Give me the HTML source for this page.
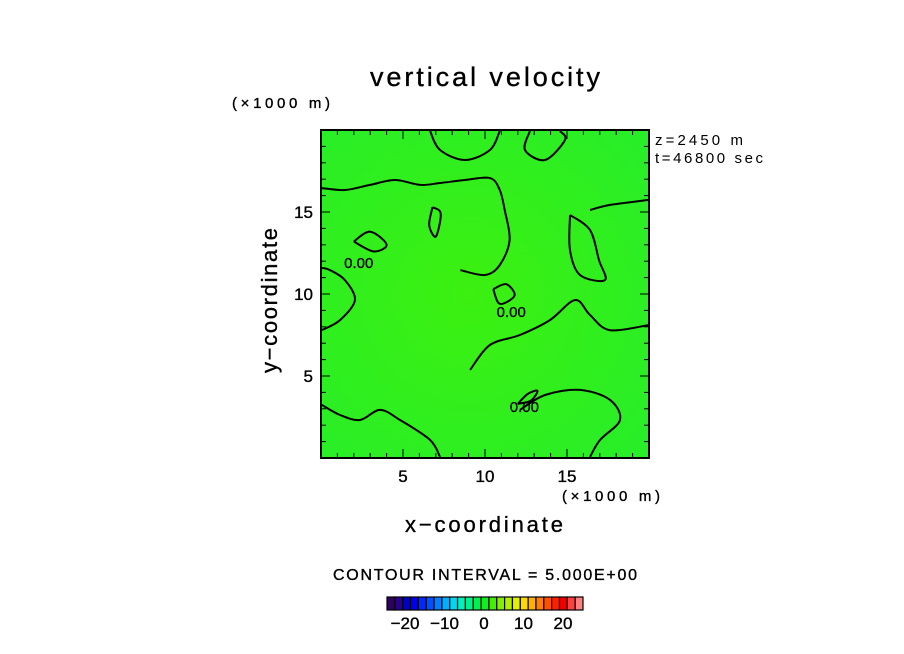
<!DOCTYPE html>
<html><head><meta charset="utf-8"><style>
body{margin:0;background:#fff;}
svg{display:block;font-family:"Liberation Sans",sans-serif;}
.t{stroke:#000;stroke-width:0.35;}
</style></head><body>
<svg id="c" width="904" height="654">
<defs><radialGradient id="g" cx="45%" cy="50%" r="70%"><stop offset="0" stop-color="#3cf010"/><stop offset="1" stop-color="#28ee28"/></radialGradient></defs>
<text class="t" x="370" y="86" font-size="27" textLength="230" lengthAdjust="spacing">vertical velocity</text>
<text class="t" x="232" y="108" font-size="15" textLength="98" lengthAdjust="spacing">(×1000 m)</text>
<text x="655" y="145" font-size="15" textLength="88" lengthAdjust="spacing">z=2450 m</text>
<text x="655" y="163" font-size="15" textLength="108" lengthAdjust="spacing">t=46800 sec</text>
<rect x="321" y="130" width="328" height="328" fill="url(#g)"/>
<g id="contours" fill="none" stroke="#000" stroke-width="2"></g>
<rect x="321" y="130" width="328" height="328" fill="none" stroke="#000" stroke-width="2"/>
<g id="ticks"></g>
<text class="t" x="562" y="501" font-size="15" textLength="98" lengthAdjust="spacing">(×1000 m)</text>
<text class="t" x="405" y="532" font-size="22" textLength="158" lengthAdjust="spacing">x−coordinate</text>
<text class="t" transform="translate(277,373) rotate(-90)" font-size="22" textLength="145" lengthAdjust="spacing">y−coordinate</text>
<text class="t" x="333" y="580" font-size="16" textLength="304" lengthAdjust="spacing">CONTOUR INTERVAL = 5.000E+00</text>
<g id="cbar"></g>
</svg>
<script>
const xTicks=[5,10,15];
const yTicks=[5,10,15];
const cbarColors=["#300060","#2a0090","#0000c8","#0000f0","#0028ff","#0050ff","#0080ff","#00b0ff","#00d8f0","#00f0c0","#00f090","#00f050","#10f020","#40f000","#80f000","#b0f000","#e0f000","#ffd800","#ffb000","#ff8000","#ff5000","#ff2000","#f00000","#ff4040","#ff8080"];
const cbarLabels=[-20,-10,0,10,20];
const contours=[
[[0.06,16.46],[1.46,16.34],[2.99,16.65],[4.51,16.95],[6.04,16.65],[7.26,16.77],[8.78,16.95],[10.3,17.07],[10.9,16.34],[11.2,15.12],[11.5,13.29],[10.9,11.77],[10,11.16],[8.5,11.46]],
[[9.09,5.37],[10.3,6.89],[12.13,7.5],[13.96,8.41],[15.49,9.63],[16.4,8.72],[17.6,7.8],[19.94,8.1]],
[[0.06,3.23],[1.16,2.62],[2.38,2.32],[3.6,2.93],[4.82,2.32],[6.65,1.1],[7.26,0.06]],
[[12.13,2.93],[13.66,3.84],[15.79,4.15],[17.62,3.54],[18.23,2.32],[17.01,1.1],[16.4,0.06]],
[[15.18,14.82],[16.4,13.9],[16.95,12.07],[17.32,10.85],[15.79,11.16],[15.18,12.68],[15.18,14.82]],
[[16.4,15.12],[17.62,15.43],[19.94,15.73]],
[[6.65,19.94],[7.26,18.78],[8.78,18.17],[10.3,18.78],[10.9,19.94]],
[[12.74,19.94],[12.44,18.78],[13.66,18.17],[14.88,19.39],[14.57,19.94]],
[[0.06,7.8],[1.16,8.41],[2.07,9.63],[1.46,10.85],[0.55,11.46],[0.06,11.59]],
[[6.8,15.3],[7.3,14.9],[7.0,13.5],[6.6,14.2],[6.8,15.3]],
[[10.5,10.3],[11.3,10.6],[11.8,9.9],[10.9,9.4],[10.5,10.3]],
[[12.0,3.3],[12.6,3.9],[13.2,4.1],[12.8,3.5],[12.0,3.3]],
[[2.0,13.2],[3.2,12.6],[4.0,13.0],[3.0,13.8],[2.0,13.2]]];
const labels=[[2.3,11.6,"0.00"],[11.6,8.6,"0.00"],[12.4,2.8,"0.00"]];
const X=v=>321+v*16.4, Y=v=>458-v*16.4;
const NS="http://www.w3.org/2000/svg";
function mk(t,a,p){const e=document.createElementNS(NS,t);for(const k in a)e.setAttribute(k,a[k]);p.appendChild(e);return e;}
function smooth(pts){const p=pts.map(q=>[X(q[0]),Y(q[1])]);let d='M'+p[0][0].toFixed(1)+','+p[0][1].toFixed(1);
for(let i=0;i<p.length-1;i++){const a=p[Math.max(i-1,0)],b=p[i],c=p[i+1],e=p[Math.min(i+2,p.length-1)];
d+='C'+(b[0]+(c[0]-a[0])/6).toFixed(1)+','+(b[1]+(c[1]-a[1])/6).toFixed(1)+' '+(c[0]-(e[0]-b[0])/6).toFixed(1)+','+(c[1]-(e[1]-b[1])/6).toFixed(1)+' '+c[0].toFixed(1)+','+c[1].toFixed(1);}
return d;}
const cg=document.getElementById('contours');
contours.forEach((c,i)=>{const e=mk('path',{d:smooth(c)},cg);

});
labels.forEach((l,i)=>{const e=mk('text',{x:X(l[0]),y:Y(l[1]),'font-size':15,'text-anchor':'middle',fill:'#000',stroke:'#000','stroke-width':0.3},cg);e.textContent=l[2];

});
const tg=document.getElementById('ticks');
for(let v=1;v<20;v++){mk('line',{x1:X(v),x2:X(v),y1:458,y2:v%5?453:449,stroke:'#000'},tg);mk('line',{x1:X(v),x2:X(v),y1:130,y2:v%5?135:139,stroke:'#000'},tg);
mk('line',{y1:Y(v),y2:Y(v),x1:321,x2:v%5?326:330,stroke:'#000'},tg);mk('line',{y1:Y(v),y2:Y(v),x1:649,x2:v%5?644:640,stroke:'#000'},tg);}
xTicks.forEach(v=>{const e=mk('text',{x:X(v),y:482,'font-size':17,'text-anchor':'middle',class:'t'},tg);e.textContent=v;

});
yTicks.forEach(v=>{const e=mk('text',{x:313,y:Y(v)+6,'font-size':17,'text-anchor':'end',class:'t'},tg);e.textContent=v;

});
const cb=document.getElementById('cbar');
const CX=v=>484+v*3.95;const w=196/cbarColors.length;
cbarColors.forEach((c,i)=>{const e=mk('rect',{x:387+i*w,y:597,width:w,height:13,fill:c,stroke:'#000','stroke-width':1.2},cb);

});
cbarLabels.forEach(v=>{const e=mk('text',{x:CX(v),y:629,'font-size':17,'text-anchor':'middle',class:'t'},cb);e.textContent=v<0?'−'+(-v):v;

});
</script>
</body></html>
